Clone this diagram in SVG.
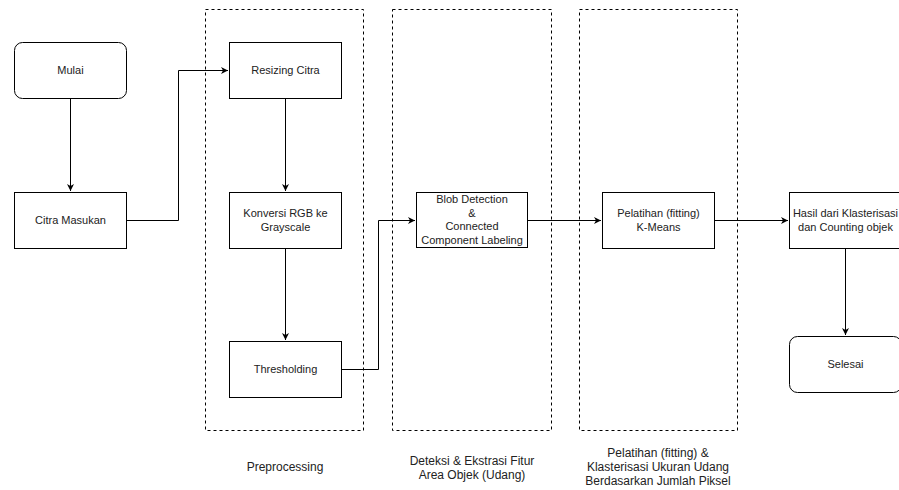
<svg xmlns="http://www.w3.org/2000/svg" width="899" height="490" viewBox="0 0 899 490">
<style>
.n{fill:#fff;stroke:#000;stroke-width:1}
.g{fill:none;stroke:#000;stroke-width:1;stroke-dasharray:3 3}
.c{fill:none;stroke:#000;stroke-width:1}
.t{font-family:"Liberation Sans",Arial,sans-serif;font-size:11px;fill:#222;text-anchor:middle}
.l{font-family:"Liberation Sans",Arial,sans-serif;font-size:12px;fill:#222;text-anchor:middle}
</style>
<defs>
<marker id="a" markerWidth="8" markerHeight="8" refX="7" refY="4" orient="auto" markerUnits="userSpaceOnUse">
<path d="M0,0.5 L7,4 L0,7.5 L2,4 Z" fill="#000"/>
</marker>
</defs>
<rect width="899" height="490" fill="#fff"/>
<g id="groups">
<g id="grp-preprocessing">
<rect class="g" x="205.5" y="9.5" width="158" height="421"/>
<text class="l" x="285" y="471">Preprocessing</text>
</g>
<g id="grp-deteksi">
<rect class="g" x="392.5" y="9.5" width="159" height="421"/>
<text class="l" x="472" y="465">Deteksi &amp; Ekstrasi Fitur</text>
<text class="l" x="472" y="479">Area Objek (Udang)</text>
</g>
<g id="grp-pelatihan">
<rect class="g" x="579.5" y="9.5" width="158" height="421"/>
<text class="l" x="658" y="457">Pelatihan (fitting) &amp;</text>
<text class="l" x="658" y="471">Klasterisasi Ukuran Udang</text>
<text class="l" x="658" y="485">Berdasarkan Jumlah Piksel</text>
</g>
</g>
<g id="connectors">
<path class="c" d="M70.5,98 V191" marker-end="url(#a)"/>
<path class="c" d="M127,220.5 H178.5 V70.5 H228" marker-end="url(#a)"/>
<path class="c" d="M285.5,98 V191" marker-end="url(#a)"/>
<path class="c" d="M285.5,248 V340" marker-end="url(#a)"/>
<path class="c" d="M342,369.5 H378.5 V220.5 H415" marker-end="url(#a)"/>
<path class="c" d="M528,220.5 H601" marker-end="url(#a)"/>
<path class="c" d="M715,220.5 H788" marker-end="url(#a)"/>
<path class="c" d="M845.5,248 V335" marker-end="url(#a)"/>
</g>
<g id="mulai">
<rect class="n" x="14.5" y="42.5" width="112" height="56" rx="8"/>
<text class="t" x="70.5" y="74">Mulai</text>
</g>
<g id="citra-masukan">
<rect class="n" x="14.5" y="192.5" width="112" height="56"/>
<text class="t" x="70.5" y="224">Citra Masukan</text>
</g>
<g id="resizing">
<rect class="n" x="229.5" y="42.5" width="112" height="56"/>
<text class="t" x="285.5" y="74">Resizing Citra</text>
</g>
<g id="konversi">
<rect class="n" x="229.5" y="192.5" width="112" height="56"/>
<text class="t" x="285.5" y="217">Konversi RGB ke</text>
<text class="t" x="285.5" y="231">Grayscale</text>
</g>
<g id="thresholding">
<rect class="n" x="229.5" y="341.5" width="112" height="56"/>
<text class="t" x="285.5" y="373">Thresholding</text>
</g>
<g id="blob">
<rect class="n" x="416.5" y="192.5" width="111" height="55"/>
<text class="t" x="472" y="203">Blob Detection</text>
<text class="t" x="472" y="216.5">&amp;</text>
<text class="t" x="472" y="230">Connected</text>
<text class="t" x="472" y="243.5">Component Labeling</text>
</g>
<g id="kmeans">
<rect class="n" x="602.5" y="192.5" width="112" height="56"/>
<text class="t" x="658.5" y="217">Pelatihan (fitting)</text>
<text class="t" x="658.5" y="231">K-Means</text>
</g>
<g id="hasil">
<rect class="n" x="789.5" y="192.5" width="112" height="56"/>
<text class="t" x="845.5" y="217">Hasil dari Klasterisasi</text>
<text class="t" x="845.5" y="231">dan Counting objek</text>
</g>
<g id="selesai">
<rect class="n" x="789.5" y="336.5" width="112" height="56" rx="8"/>
<text class="t" x="845.5" y="368">Selesai</text>
</g>
</svg>
